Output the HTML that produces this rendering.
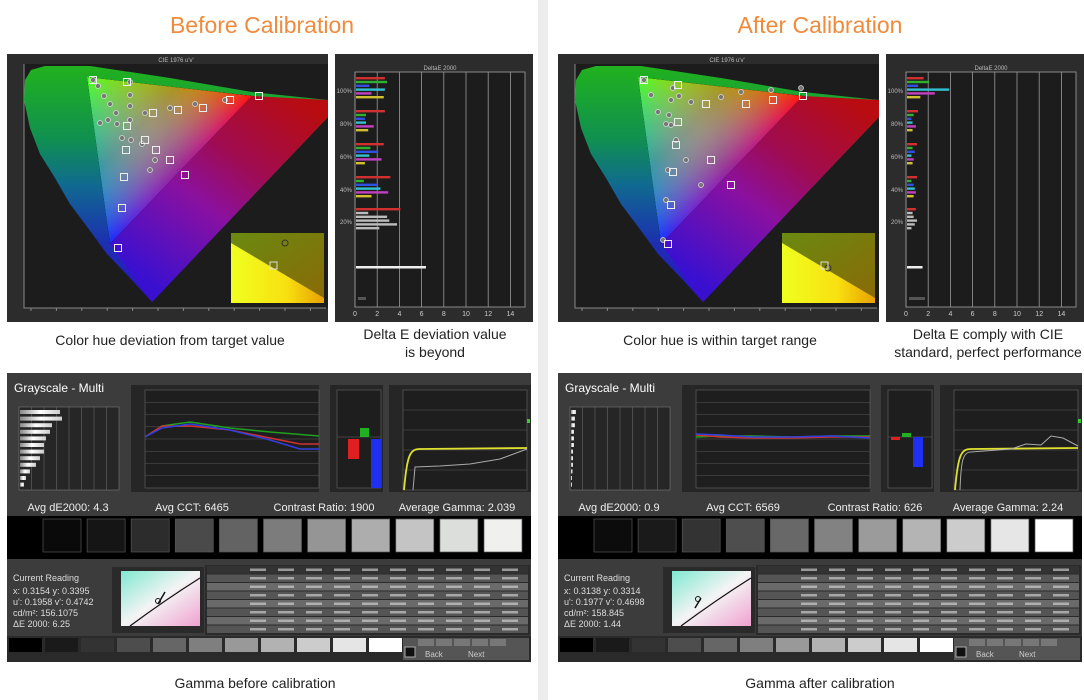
<!DOCTYPE html>
<html><head><meta charset="utf-8"><style>
html,body{margin:0;padding:0;background:#fff;}
svg{display:block}
text{font-family:"Liberation Sans",sans-serif}
</style></head><body>
<svg id="s" width="1084" height="700" viewBox="0 0 1084 700" xmlns="http://www.w3.org/2000/svg">
<defs>
<linearGradient id="yel" x1="0" y1="0" x2="1" y2="0"><stop offset="0" stop-color="#f0ff20"/><stop offset="0.6" stop-color="#f8e010"/><stop offset="1" stop-color="#e8a000"/></linearGradient>
<linearGradient id="yel2" x1="0" y1="0" x2="1" y2="1"><stop offset="0" stop-color="#6a8a10"/><stop offset="1" stop-color="#8a6a08"/></linearGradient>
<linearGradient id="mini" x1="0" y1="0" x2="1" y2="1"><stop offset="0" stop-color="#7fe8d0"/><stop offset="0.5" stop-color="#f4f4f4"/><stop offset="1" stop-color="#f0a0d0"/></linearGradient>
<linearGradient id="wbar" x1="0" y1="0" x2="1" y2="0"><stop offset="0" stop-color="#888"/><stop offset="0.5" stop-color="#fff"/><stop offset="1" stop-color="#ccc"/></linearGradient>
<linearGradient id="gl" gradientUnits="userSpaceOnUse" x1="0" y1="70" x2="0" y2="300"><stop offset="0" stop-color="#20b020"/><stop offset="0.3" stop-color="#109050"/><stop offset="0.5" stop-color="#106a90"/><stop offset="0.75" stop-color="#1c30b0"/><stop offset="1" stop-color="#3010c8"/></linearGradient>
<linearGradient id="gr" gradientUnits="userSpaceOnUse" x1="300" y1="100" x2="160" y2="290"><stop offset="0" stop-color="#b80c10"/><stop offset="0.35" stop-color="#a00c50"/><stop offset="0.6" stop-color="#8a10a0"/><stop offset="1" stop-color="#3a10d0"/></linearGradient>
</defs>
<rect x="538" y="0" width="10" height="700" fill="#ececec"/>
<g id="L"></g><g id="R" transform="translate(551,0)"></g>

<text x="262" y="33" font-size="23" fill="#f08a3c" text-anchor="middle">Before Calibration</text>
<text x="820" y="33" font-size="23" fill="#f08a3c" text-anchor="middle">After Calibration</text>
<text x="170" y="345" font-size="14" fill="#222" text-anchor="middle">Color hue deviation from target value</text>
<text x="435" y="339" font-size="14" fill="#222" text-anchor="middle">Delta E deviation value</text>
<text x="435" y="357" font-size="14" fill="#222" text-anchor="middle">is beyond</text>
<text x="720" y="345" font-size="14" fill="#222" text-anchor="middle">Color hue is within target range</text>
<text x="988" y="339" font-size="14" fill="#222" text-anchor="middle">Delta E comply with CIE</text>
<text x="988" y="357" font-size="14" fill="#222" text-anchor="middle">standard, perfect performance</text>
<text x="255" y="688" font-size="14" fill="#222" text-anchor="middle">Gamma before calibration</text>
<text x="820" y="688" font-size="14" fill="#222" text-anchor="middle">Gamma after calibration</text>

<g fill="#fff" font-size="12">
<text x="14" y="392">Grayscale - Multi</text>
<text x="565" y="392">Grayscale - Multi</text>
</g>
<g fill="#eee" font-size="11" text-anchor="middle">
<text x="68" y="511">Avg dE2000: 4.3</text><text x="192" y="511">Avg CCT: 6465</text><text x="324" y="511">Contrast Ratio: 1900</text><text x="457" y="511">Average Gamma: 2.039</text>
<text x="619" y="511">Avg dE2000: 0.9</text><text x="743" y="511">Avg CCT: 6569</text><text x="875" y="511">Contrast Ratio: 626</text><text x="1008" y="511">Average Gamma: 2.24</text>
</g>
<g fill="#ddd" font-size="9">
<text x="13" y="581">Current Reading</text>
<text x="13" y="594">x: 0.3154   y: 0.3395</text>
<text x="13" y="605">u': 0.1958   v': 0.4742</text>
<text x="13" y="616">cd/m²: 156.1075</text>
<text x="13" y="627">ΔE 2000: 6.25</text>
<text x="564" y="581">Current Reading</text>
<text x="564" y="594">x: 0.3138   y: 0.3314</text>
<text x="564" y="605">u': 0.1977   v': 0.4698</text>
<text x="564" y="616">cd/m²: 158.845</text>
<text x="564" y="627">ΔE 2000: 1.44</text>
</g>
<g fill="#ccc" font-size="8">
<text x="425" y="657">Back</text><text x="468" y="657">Next</text>
<text x="976" y="657">Back</text><text x="1019" y="657">Next</text>
</g>
</svg>
<script>
const NS="http://www.w3.org/2000/svg";
function el(p,t,a){const e=document.createElementNS(NS,t);for(const k in a)e.setAttribute(k,a[k]);p.appendChild(e);return e;}
function U(u){return 31+u*508;}
const HS='M152 302L130 278L107 254L88 228L70 204L55 178L40 154L30 128L24 100L25 80L31 70L45 66L90 66L170 78L252 92L328 100L328 117Z';
const G=[87,77],Rv=[252,96],B=[110,244];
function foot(P,A,C){const dx=C[0]-A[0],dy=C[1]-A[1];const t=((P[0]-A[0])*dx+(P[1]-A[1])*dy)/(dx*dx+dy*dy);return [A[0]+t*dx,A[1]+t*dy];}
let gid=0;
function triLayer(g,P,A,C,col){const f=foot(P,A,C);const id='tg'+(gid++);
 const lg=el(g,'linearGradient',{id:id,gradientUnits:'userSpaceOnUse',x1:P[0],y1:P[1],x2:f[0],y2:f[1]});
 el(lg,'stop',{offset:0,'stop-color':col});el(lg,'stop',{offset:0.55,'stop-color':col,'stop-opacity':0.55});el(lg,'stop',{offset:1,'stop-color':'#000'});
 el(g,'path',{d:`M${G}L${Rv}L${B}Z`,fill:`url(#${id})`,style:'mix-blend-mode:screen'});}
function half(g,after,id){
 el(g,'rect',{x:7,y:54,width:321,height:268,fill:'#2c2c2c'});
 el(g,'rect',{x:24,y:64,width:304,height:244,fill:'#1c1c1c'});
 el(g,'path',{d:'M24 64V308H326',stroke:'#888',fill:'none','stroke-width':1});
 for(let i=0;i<=11;i++){el(g,'line',{x1:U(i*0.05),x2:U(i*0.05),y1:308,y2:311,stroke:'#888'});}
 el(g,'path',{d:HS,fill:'url(#gl)'});
 el(g,'path',{d:`M${Rv}L328 100L328 117L152 302L${B}Z`,fill:'url(#gr)'});
 const tri=el(g,'g',{style:'isolation:isolate'});
 el(tri,'path',{d:`M${G}L${Rv}L${B}Z`,fill:'#000'});
 triLayer(tri,G,Rv,B,'#50ff20');triLayer(tri,Rv,B,G,'#ff1010');triLayer(tri,B,G,Rv,'#1828ff');
 const pts=after?[[93,80],[100,95],[107,112],[115,124],[128,96],[140,102],[170,97],[190,92],[220,90],[250,88],[118,115],[120,125],[125,140],[135,160],[150,185],[117,170],[115,200],[112,240],[120,100],[122,88]]:[[93,80],[98,86],[104,96],[110,104],[116,113],[130,82],[130,95],[130,106],[130,120],[117,124],[122,138],[131,140],[142,144],[155,160],[150,170],[108,120],[100,123],[145,113],[170,108],[195,104],[225,100]];
 pts.forEach(p=>el(g,'circle',{cx:p[0],cy:p[1],r:2.5,fill:'#777',stroke:'#ddd','stroke-width':0.7}));
 const sq=after?[[93,80],[127,85],[155,104],[195,104],[222,100],[252,96],[127,122],[125,145],[122,172],[120,205],[117,244],[160,160],[180,185]]:[[93,80],[127,82],[153,113],[178,110],[203,108],[230,100],[259,96],[127,126],[126,150],[124,177],[122,208],[118,248],[145,140],[156,150],[170,160],[185,175]];
 sq.forEach(p=>el(g,'rect',{x:p[0]-3.5,y:p[1]-3.5,width:7,height:7,fill:'none',stroke:'#eee','stroke-width':1}));
 el(g,'rect',{x:231,y:233,width:93,height:70,fill:'url(#yel)'});
 el(g,'path',{d:'M231 233H324V298L231 243Z',fill:'url(#yel2)'});
 el(g,'circle',{cx:after?277:285,cy:after?268:243,r:3,fill:'none',stroke:'#333'});
 el(g,'rect',{x:270,y:262,width:7,height:7,fill:'none',stroke:'#ddd'});
 el(g,'rect',{x:335,y:54,width:198,height:268,fill:'#2c2c2c'});
 el(g,'rect',{x:355,y:72,width:170,height:235,fill:'#1c1c1c',stroke:'#888'});
 for(let i=0;i<=7;i++){const x=355+i*22.2;el(g,'line',{x1:x,x2:x,y1:72,y2:307,stroke:'#999','stroke-width':0.8});}
 const cols=['#d03030','#30b030','#3050e0','#30c0d0','#c040c0','#d0c030'];
 const groups=[77,110,143,176,208];
 const valsB=[[2.6,2.8,1.2,2.6,1.4,2.5],[2.6,0.9,0.8,0.9,1.6,1.1],[2.5,1.3,2.0,1.2,2.3,0.8],[3.1,0.7,1.9,2.2,2.9,1.4],[4.0,1.1,2.8,3.0,3.7,2.1]];
 const valsA=[[1.5,2.0,1.0,3.8,2.5,1.2],[1.0,0.6,0.4,0.5,0.8,0.5],[0.9,0.5,0.7,0.4,0.6,0.5],[0.9,0.4,0.6,0.7,0.8,0.6],[0.8,0.5,0.6,0.9,0.7,0.4]];
 const vals=after?valsA:valsB;
 groups.forEach((gy,gi)=>{vals[gi].forEach((v,j)=>{const c=gi==4?(j==0?'#d03030':'#bbb'):cols[j];el(g,'rect',{x:356,y:gy+j*3.8,width:v*11.1,height:2.4,fill:c});});});
 el(g,'rect',{x:356,y:266,width:after?1.4*11.1:6.3*11.1,height:2.5,fill:'#eee'});
 el(g,'rect',{x:358,y:297,width:after?16:8,height:3,fill:'#555'});
 ['100%','80%','60%','40%','20%'].forEach((t,i)=>{const e=el(g,'text',{x:352,y:groups[i]+16,'font-size':6,fill:'#bbb','text-anchor':'end'});e.textContent=t;});
 for(let i=0;i<=7;i++){const e=el(g,'text',{x:355+i*22.2,y:316,'font-size':7,fill:'#ccc','text-anchor':'middle'});e.textContent=i*2;}
 const tt=el(g,'text',{x:440,y:70,'font-size':6,fill:'#bbb','text-anchor':'middle'});tt.textContent='DeltaE 2000';
 const t2=el(g,'text',{x:176,y:62,'font-size':6,fill:'#bbb','text-anchor':'middle'});t2.textContent='CIE 1976 u\'v\'';
 el(g,'rect',{x:7,y:373,width:524,height:289,fill:'#3c3c3c'});
 el(g,'rect',{x:19,y:407,width:100,height:83,fill:'#262626',stroke:'#777','stroke-width':0.6});
 for(let i=1;i<8;i++)el(g,'line',{x1:19+i*12.5,x2:19+i*12.5,y1:407,y2:490,stroke:'#666','stroke-width':0.6});
 const lb=after?[5,4,4,3,3,3,2,2,2,1.5,1,1]:[40,42,32,30,26,24,24,20,16,10,6,4];
 lb.forEach((v,i)=>el(g,'rect',{x:20,y:410+i*6.6,width:v,height:4,fill:'url(#wbar)'}));
 el(g,'rect',{x:131,y:385,width:188,height:107,fill:'#262626'});
 el(g,'rect',{x:145,y:390,width:174,height:98,fill:'#1e1e1e',stroke:'#666','stroke-width':0.6});
 for(let i=1;i<8;i++)el(g,'line',{x1:145,x2:319,y1:390+i*12.25,y2:390+i*12.25,stroke:'#555','stroke-width':0.6});
 if(!after){
  el(g,'polyline',{points:'145,437 162,426 190,422 230,428 270,432 319,436',fill:'none',stroke:'#20a020','stroke-width':1.5});
  el(g,'polyline',{points:'145,437 162,426 190,426 230,430 270,438 300,444 319,444',fill:'none',stroke:'#d03030','stroke-width':1.5});
  el(g,'polyline',{points:'145,437 162,428 190,424 230,430 270,440 300,449 319,449',fill:'none',stroke:'#3040e0','stroke-width':1.5});
 } else {
  el(g,'polyline',{points:'145,437 170,436 200,436 240,437 280,436 319,436',fill:'none',stroke:'#20a020','stroke-width':1.5});
  el(g,'polyline',{points:'145,435 170,437 200,438 240,438 280,437 319,437',fill:'none',stroke:'#d03030','stroke-width':1.5});
  el(g,'polyline',{points:'145,434 170,435 200,437 240,437 280,436 319,438',fill:'none',stroke:'#3040e0','stroke-width':1.5});
 }
 el(g,'rect',{x:330,y:385,width:53,height:107,fill:'#262626'});
 el(g,'rect',{x:337,y:390,width:44,height:98,fill:'#1e1e1e',stroke:'#666','stroke-width':0.6});
 el(g,'line',{x1:337,x2:381,y1:437,y2:437,stroke:'#666','stroke-width':0.6});
 if(!after){el(g,'rect',{x:348,y:439,width:11,height:20,fill:'#e02020'});el(g,'rect',{x:360,y:428,width:9,height:9,fill:'#20b020'});el(g,'rect',{x:371,y:439,width:10,height:49,fill:'#2030f0'});}
 else{el(g,'rect',{x:340,y:437,width:9,height:3,fill:'#e02020'});el(g,'rect',{x:351,y:433,width:9,height:4,fill:'#20b020'});el(g,'rect',{x:362,y:437,width:10,height:30,fill:'#2030f0'});}
 el(g,'rect',{x:389,y:385,width:142,height:107,fill:'#262626'});
 el(g,'rect',{x:403,y:390,width:124,height:100,fill:'#1e1e1e',stroke:'#666','stroke-width':0.6});
 for(let i=1;i<5;i++)el(g,'line',{x1:403,x2:527,y1:390+i*20,y2:390+i*20,stroke:'#555','stroke-width':0.6});
 el(g,'path',{d:'M404 490C407 455 410 449 420 449L527 448',fill:'none',stroke:'#e0e030','stroke-width':1.8});
 el(g,'path',{d:after?'M409 490C410 460 412 452 420 452L460 449 475 444 490 445 500 436 512 438 527 446':'M413 490L415 467 440 466 470 464 500 459 527 449',fill:'none',stroke:'#aaa','stroke-width':1});
 el(g,'rect',{x:527,y:419,width:3,height:4,fill:'#3c3'});
 el(g,'rect',{x:7,y:516,width:524,height:43,fill:'#000'});
 const swB=['#0a0a0a','#151515','#2c2c2c','#4a4a4a','#636363','#7c7c7c','#959595','#adadad','#c4c4c4','#dcdedc','#f0f0ee'];
 const swA=['#0c0c0c','#1a1a1a','#333','#4e4e4e','#686868','#828282','#9b9b9b','#b4b4b4','#cccccc','#e6e6e6','#ffffff'];
 const sw=after?swA:swB;
 sw.forEach((c,i)=>el(g,'rect',{x:43+i*44.1,y:519,width:38,height:33,fill:c,stroke:'#555','stroke-width':0.7}));
 el(g,'rect',{x:112,y:567,width:92,height:66,fill:'#2a2a2a'});
 el(g,'rect',{x:121,y:571,width:79,height:55,fill:'url(#mini)'});
 el(g,'path',{d:'M130 626Q165 600 200 578',fill:'none',stroke:'#111','stroke-width':1.2});
 el(g,'circle',{cx:after?147:158,cy:after?599:601,r:2.5,fill:'none',stroke:'#111'});
 el(g,'line',{x1:after?144:158,y1:after?608:604,x2:after?150:165,y2:after?598:592,stroke:'#111','stroke-width':1.5});
 el(g,'rect',{x:205,y:565,width:325,height:70,fill:'#2a2a2a'});
 for(let i=0;i<8;i++){el(g,'rect',{x:207,y:566+i*8.5,width:321,height:7.5,fill:i==0?'#333':(i%2?'#555':'#6a6a6a')});
  for(let j=0;j<10;j++)el(g,'rect',{x:250+j*28,y:568.5+i*8.5,width:16,height:2.5,fill:'#ddd',opacity:0.6});}
 el(g,'rect',{x:7,y:636,width:524,height:26,fill:'#2a2a2a'});
 const bs=['#000','#1a1a1a','#333','#4d4d4d','#666','#7f7f7f','#999','#b2b2b2','#ccc','#e5e5e5','#fff'];
 bs.forEach((c,i)=>el(g,'rect',{x:9+i*36,y:638,width:33,height:14,fill:c}));
 el(g,'rect',{x:403,y:638,width:126,height:22,fill:'#555'});
 el(g,'rect',{x:405,y:647,width:10,height:10,fill:'#111',stroke:'#aaa'});
 for(let j=0;j<5;j++)el(g,'rect',{x:418+j*18,y:639,width:16,height:7,fill:'#777'});
}
half(document.getElementById('L'),false,'a');
half(document.getElementById('R'),true,'b');
</script>
</body></html>
